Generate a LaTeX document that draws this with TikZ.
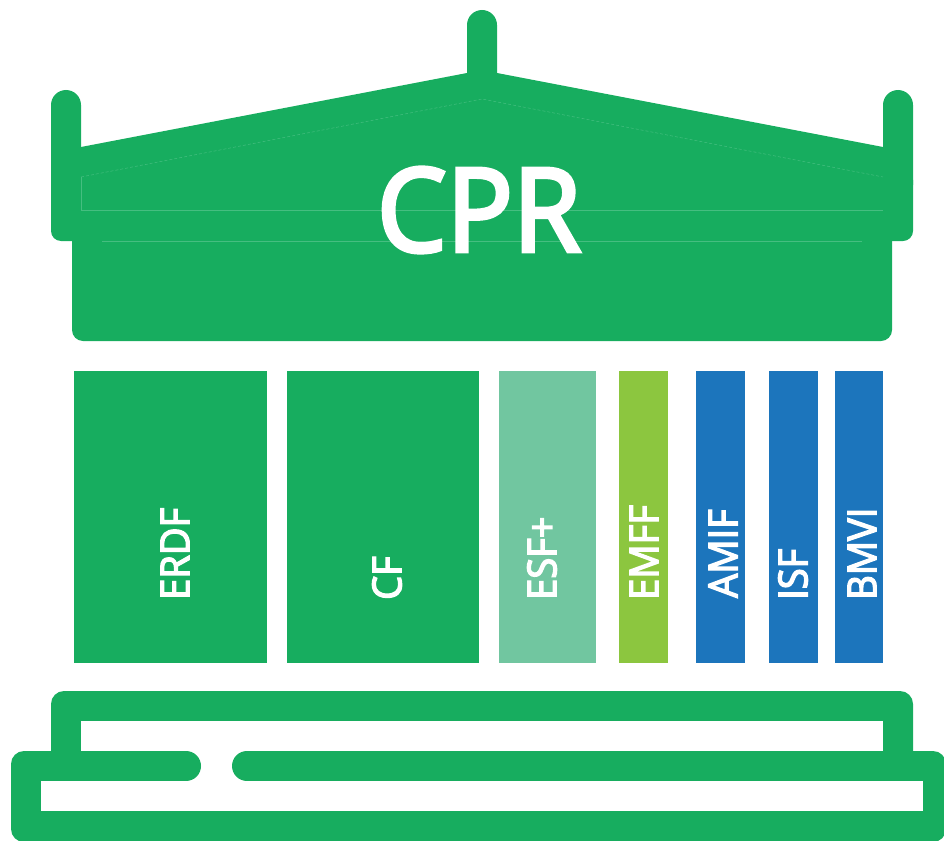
\documentclass[tikz,border=0pt]{standalone}
\usepackage{fontspec}
\setmainfont{Open Sans}[FakeBold=3.5,FakeStretch=0.95]
\definecolor{cprgreen}{HTML}{17AD5F}
\definecolor{cprpale}{HTML}{71C6A0}
\definecolor{cprlime}{HTML}{8CC63F}
\definecolor{cprblue}{HTML}{1C75BC}
\definecolor{cprfaint}{HTML}{45BE80}
\begin{document}
\begin{tikzpicture}[x=1pt,y=-1pt,
pillar/.style={
rectangle,
anchor=north west,
inner sep=0pt,
minimum height=292pt
},
pillarlabel/.style={
rotate=90,
anchor=west,
inner sep=0pt,
text=white,
font=\fontsize{40}{40}\selectfont
},
post/.style={fill=cprgreen,rounded corners=15pt},
faint/.style={draw=cprfaint,line width=0.5pt},
gapline/.style={line width=30pt,line cap=round,draw=cprgreen}
]
\useasboundingbox (0,0) rectangle (944,840);
% Roof:
\fill[post] (467,120) -- (467,10) -- (497,10) -- (497,120) -- cycle;
\fill[post] (51,200) -- (51,90) -- (81,90) -- (81,200) -- cycle;
\fill[post] (883,200) -- (883,90) -- (913,90) -- (913,200) -- cycle;
\fill[cprgreen] (81,147) -- (467,73) -- (497,73) -- (883,147) -- (883,230) -- (81,230) -- cycle;
\fill[cprgreen,rounded corners=10pt] (51,170) -- (51,241) -- (913,241) -- (913,170) -- cycle;
\fill[cprgreen,rounded corners=11pt] (72,220) -- (72,341) -- (892,341) -- (892,220) -- cycle;
\draw[faint,densely dashed] (81,177) -- (482,99) -- (883,177);
\draw[faint] (81,177) -- (81,210) -- (883,210);
\draw[faint] (102,241) -- (862,241);
\node (cpr) at (479,210) [text=white,inner sep=0pt,font=\fontsize{116}{116}\selectfont] {CPR};
% Pillars:
\node (erdf) at (74,371) [pillar,fill=cprgreen,minimum width=193pt] {};
\node (cf) at (287,371) [pillar,fill=cprgreen,minimum width=192pt] {};
\node (esf) at (499,371) [pillar,fill=cprpale,minimum width=97pt] {};
\node (emff) at (619,371) [pillar,fill=cprlime,minimum width=49pt] {};
\node (amif) at (696,371) [pillar,fill=cprblue,minimum width=49pt] {};
\node (isf) at (769,371) [pillar,fill=cprblue,minimum width=49pt] {};
\node (bmvi) at (835,371) [pillar,fill=cprblue,minimum width=48pt] {};
\node (erdflabel) at (175,600) [pillarlabel] {ERDF};
\node (cflabel) at (387,600) [pillarlabel] {CF};
\node (esflabel) at (542,600) [pillarlabel] {ESF+};
\node (emfflabel) at (644,600) [pillarlabel] {EMFF};
\node (amiflabel) at (723,598) [pillarlabel] {AMIF};
\node (isflabel) at (793,600) [pillarlabel] {ISF};
\node (bmvilabel) at (862,600) [pillarlabel] {BMVI};
% Base:
\fill[cprgreen,rounded corners=13pt] (51,770) -- (51,691) -- (913,691) -- (913,770) -- cycle;
\fill[white] (81,721) rectangle (883,760);
\fill[cprgreen,rounded corners=13pt] (11,842) -- (11,751) -- (946,751) -- (946,842) -- cycle;
\fill[white] (41,781) rectangle (923,811);
\fill[white] (186,751) rectangle (247,781);
\draw[gapline] (100,766) -- (186,766);
\draw[gapline] (247,766) -- (800,766);
\end{tikzpicture}
\end{document}
